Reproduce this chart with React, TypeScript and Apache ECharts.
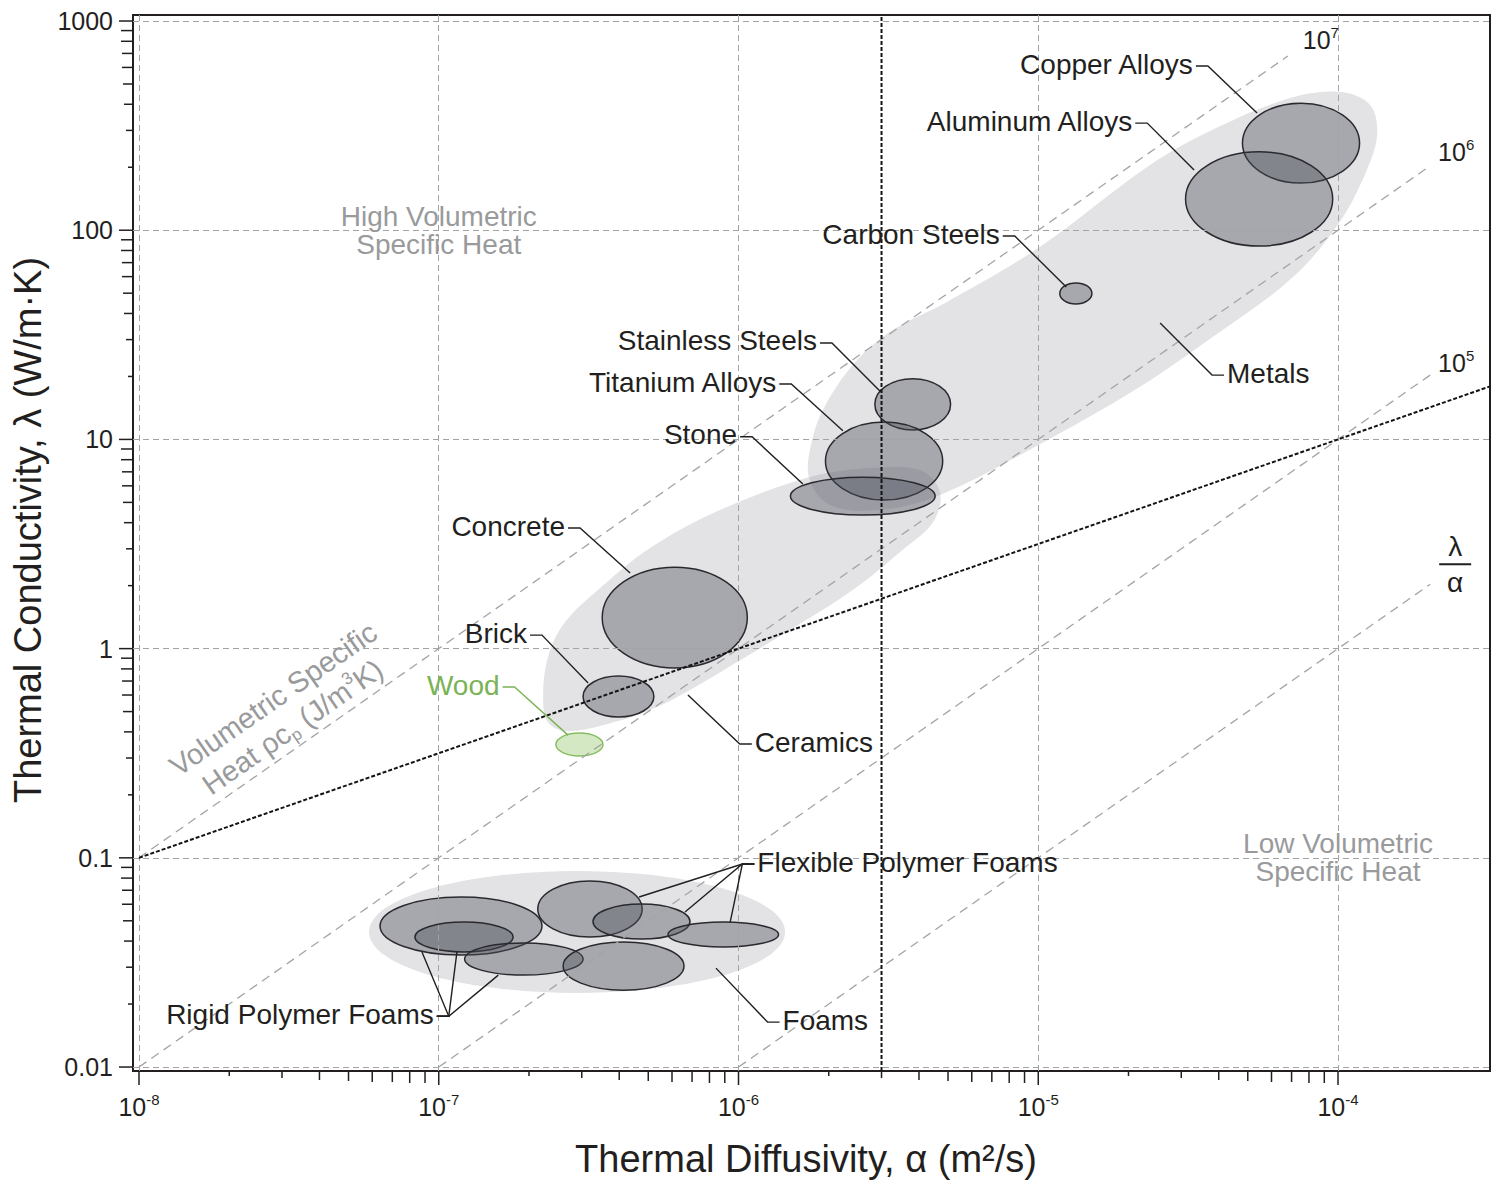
import React, { useEffect, useRef } from 'react';
import * as echarts from 'echarts';

const FONT = "'Liberation Sans', Arial, Helvetica, sans-serif";
const INK = '#231f20';
const GRID_GRAY = '#a3a3a3';
const NOTE_GRAY = '#999a9c';
const WOOD_GREEN = '#7ab356';
const ENVELOPE_FILL = 'rgba(150,153,162,0.27)';
const BUBBLE_FILL = 'rgba(78,80,90,0.40)';

// ---------- axes ----------
const X_MIN = 9.55e-9;
const X_MAX = 3.214e-4;
const Y_MIN = 0.009572;
const Y_MAX = 1068.4;
const X_DECADES = [1e-8, 1e-7, 1e-6, 1e-5, 1e-4];
const Y_DECADES = [0.01, 0.1, 1, 10, 100, 1000];
const MINOR_MULTIPLIERS = [2, 3, 4, 5, 6, 7, 8, 9];
const X_TITLE = 'Thermal Diffusivity, α (m²/s)';
const Y_TITLE = 'Thermal Conductivity, λ (W/m·K)';

// ---------- material bubbles (α in m²/s, λ in W/m·K) ----------
const MATERIALS = [
  'Copper Alloys', 'Aluminum Alloys', 'Carbon Steels', 'Stainless Steels', 'Titanium Alloys',
  'Stone', 'Concrete', 'Brick', 'Wood',
  'Rigid Polymer Foam A', 'Rigid Polymer Foam B', 'Rigid Polymer Foam C',
  'Flexible Polymer Foam A', 'Flexible Polymer Foam B', 'Polymer Foam', 'Flexible Polymer Foam C',
];
const ALPHA_MIN = [4.8e-5, 3.1e-5, 1.18e-5, 2.85e-6, 1.95e-6, 1.49e-6, 3.51e-7, 3.03e-7, 2.46e-7, 6.37e-8, 8.33e-8, 1.22e-7, 2.14e-7, 3.27e-7, 2.6e-7, 5.82e-7];
const ALPHA_MAX = [1.18e-4, 9.6e-5, 1.51e-5, 5.1e-6, 4.8e-6, 4.53e-6, 1.07e-6, 5.22e-7, 3.53e-7, 2.21e-7, 1.77e-7, 3.03e-7, 4.77e-7, 6.89e-7, 6.58e-7, 1.36e-6];
const LAMBDA_MIN = [168, 84, 44.4, 11.1, 5.13, 4.35, 0.808, 0.471, 0.307, 0.0343, 0.0355, 0.0275, 0.0418, 0.0409, 0.0233, 0.0375];
const LAMBDA_MAX = [405, 237, 56, 19.5, 12.1, 6.6, 2.45, 0.74, 0.395, 0.065, 0.0493, 0.0392, 0.0775, 0.0601, 0.0396, 0.0493];

// ---------- class envelopes ----------
const METALS_ALPHA = [1.72e-6, 1.76e-6, 1.95e-6, 2.45e-6, 3.27e-6, 4.89e-6, 1.0e-5, 2.36e-5, 3.92e-5, 6.92e-5, 1.02e-4, 1.28e-4, 1.35e-4, 1.24e-4, 1.01e-4, 7.08e-5, 3.89e-5, 2.15e-5, 1.0e-5, 4.7e-6, 2.96e-6, 2.02e-6];
const METALS_LAMBDA = [6.53, 9.93, 14.6, 23.4, 33.3, 44.9, 82.2, 205, 308, 428, 458, 397, 285, 190, 109, 59.7, 31.5, 17.6, 9.4, 5.42, 4.6, 4.86];
const CERAMICS_ALPHA = [2.23e-7, 2.3e-7, 2.6e-7, 3.4e-7, 5.07e-7, 8.67e-7, 1.73e-6, 2.75e-6, 4.03e-6, 4.7e-6, 4.46e-6, 3.46e-6, 2.41e-6, 1.49e-6, 9.89e-7, 6.89e-7, 5.07e-7, 3.45e-7, 2.64e-7, 2.31e-7];
const CERAMICS_LAMBDA = [0.568, 0.883, 1.3, 1.91, 3.03, 4.6, 6.61, 7.3, 7.14, 5.61, 4.03, 2.9, 1.91, 1.23, 0.863, 0.634, 0.509, 0.427, 0.404, 0.446];
const ENVELOPE_NAMES = ['Metals', 'Ceramics'];
const ENVELOPE_ALPHA = [METALS_ALPHA, CERAMICS_ALPHA];
const ENVELOPE_LAMBDA = [METALS_LAMBDA, CERAMICS_LAMBDA];
const FOAMS_ALPHA_RANGE = [5.85e-8, 1.43e-6];
const FOAMS_LAMBDA_RANGE = [0.0226, 0.0865];

// ---------- reference lines ----------
const RHO_C_VALUES = [1e7, 1e6, 1e5, 1e4]; // J/m³K, λ = ρc·α
const RHO_C_START_ALPHA = [1e-8, 1e-8, 1e-7, 1e-6];
const RHO_C_END_ALPHA = [6.8e-5, 2.03e-4, 2.03e-4, 2.03e-4];
const RHO_C_LABELS = ['7', '6', '5', 'λ/α'];
const SLOPED_LINE = [[1e-8, 0.1], [3.214e-4, 17.93]];
const VERTICAL_LINE_ALPHA = 3e-6;

// ---------- annotations ----------
const LABEL_TEXTS = ['Copper Alloys', 'Aluminum Alloys', 'Carbon Steels', 'Stainless Steels', 'Titanium Alloys', 'Stone', 'Concrete', 'Brick', 'Wood', 'Metals', 'Ceramics', 'Foams', 'Flexible Polymer Foams', 'Rigid Polymer Foams'];
const LABEL_ELBOWS = [[3.68e-5, 609], [2.31e-5, 325], [8.35e-6, 93.8], [2.05e-6, 28.9], [1.5e-6, 18.4], [1.11e-6, 10.3], [2.96e-7, 3.77], [2.21e-7, 1.16], [1.79e-7, 0.655], [3.8e-5, 20.3], [1.01e-6, 0.35], [1.25e-6, 0.0164], [1.03e-6, 0.0934], [1.08e-7, 0.0175]];
const LABEL_TARGETS = [
  [[5.37e-5, 363]],
  [[3.31e-5, 194]],
  [[1.24e-5, 53.5]],
  [[2.98e-6, 16.9]],
  [[2.23e-6, 11.0]],
  [[1.64e-6, 6.12]],
  [[4.35e-7, 2.3]],
  [[3.15e-7, 0.685]],
  [[2.7e-7, 0.386]],
  [[2.55e-5, 36.0]],
  [[6.78e-7, 0.6]],
  [[8.41e-7, 0.0297]],
  [[4.66e-7, 0.065], [6.63e-7, 0.0551], [9.38e-7, 0.0493]],
  [[8.79e-8, 0.0355], [1.15e-7, 0.0355], [1.58e-7, 0.0275]],
];
const NOTE_TEXTS = ['High Volumetric\nSpecific Heat', 'Low Volumetric\nSpecific Heat'];
const NOTE_POSITIONS = [[1e-7, 100], [1e-4, 0.1]];
const SLANTED_NOTE_POSITION = [3.02e-8, 0.492];

// ---------- styles (layout only) ----------
const LABEL_SIDE = ['left', 'left', 'left', 'left', 'left', 'left', 'left', 'left', 'left', 'right', 'right', 'right', 'right', 'left'];
const MAJOR_TICK_LEN = 14;
const MINOR_TICK_LEN: Record<number, number> = { 2: 5, 3: 7, 4: 9, 5: 10, 6: 11, 7: 11, 8: 12, 9: 12 };
const RHO_LABEL_OFFSET = [[33, -16], [26, -14], [26, -12], [25, 0]];

function isPow10(v: number) {
  const e = Math.log10(v);
  return Math.abs(e - Math.round(e)) < 0.01;
}

function buildOption() {
  const xTicks: number[][] = [];
  X_DECADES.forEach((d, k) => {
    xTicks.push([d, Y_MIN, MAJOR_TICK_LEN]);
    if (k < X_DECADES.length - 1) MINOR_MULTIPLIERS.forEach((m) => xTicks.push([d * m, Y_MIN, MINOR_TICK_LEN[m]]));
  });
  const yTicks: number[][] = [];
  Y_DECADES.forEach((d, k) => {
    yTicks.push([X_MIN, d, MAJOR_TICK_LEN]);
    if (k < Y_DECADES.length - 1) MINOR_MULTIPLIERS.forEach((m) => yTicks.push([X_MIN, d * m, MINOR_TICK_LEN[m]]));
  });

  // rich styles for axis labels (ECharts label model uses `color`)
  const axisSupRich = {
    b: { fontSize: 25, fontFamily: FONT, color: INK, lineHeight: 30 },
    s: { fontSize: 15, fontFamily: FONT, color: INK, verticalAlign: 'top', lineHeight: 12 },
  };
  // rich styles for zrender text in custom series (uses `fill`)
  const textSupRich = {
    b: { fontSize: 25, fontFamily: FONT, fill: INK, lineHeight: 30 },
    s: { fontSize: 15, fontFamily: FONT, fill: INK, verticalAlign: 'top', lineHeight: 12 },
  };

  const series: any[] = [];

  // envelopes
  series.push({
    type: 'custom', name: 'envelopes', z: 1, silent: true, coordinateSystem: 'cartesian2d',
    data: ENVELOPE_NAMES.map((_, i) => [ENVELOPE_ALPHA[i][0], ENVELOPE_LAMBDA[i][0], i]),
    encode: { x: 0, y: 1 },
    renderItem: (params: any, api: any) => {
      const i = params.dataIndex;
      const points = ENVELOPE_ALPHA[i].map((a, k) => api.coord([a, ENVELOPE_LAMBDA[i][k]]));
      return { type: 'polygon', shape: { points, smooth: 0.35 }, style: { fill: ENVELOPE_FILL } };
    },
  });
  series.push({
    type: 'custom', name: 'Foams envelope', z: 1, silent: true, coordinateSystem: 'cartesian2d',
    data: [[Math.sqrt(FOAMS_ALPHA_RANGE[0] * FOAMS_ALPHA_RANGE[1]), Math.sqrt(FOAMS_LAMBDA_RANGE[0] * FOAMS_LAMBDA_RANGE[1])]],
    encode: { x: 0, y: 1 },
    renderItem: (_p: any, api: any) => {
      const tl = api.coord([FOAMS_ALPHA_RANGE[0], FOAMS_LAMBDA_RANGE[1]]);
      const br = api.coord([FOAMS_ALPHA_RANGE[1], FOAMS_LAMBDA_RANGE[0]]);
      return {
        type: 'ellipse',
        shape: { cx: (tl[0] + br[0]) / 2, cy: (tl[1] + br[1]) / 2, rx: (br[0] - tl[0]) / 2, ry: (br[1] - tl[1]) / 2 },
        style: { fill: ENVELOPE_FILL },
      };
    },
  });

  // bubbles
  series.push({
    type: 'custom', name: 'materials', z: 2, silent: true, coordinateSystem: 'cartesian2d',
    data: MATERIALS.map((_, i) => [Math.sqrt(ALPHA_MIN[i] * ALPHA_MAX[i]), Math.sqrt(LAMBDA_MIN[i] * LAMBDA_MAX[i]), i]),
    encode: { x: 0, y: 1 },
    renderItem: (params: any, api: any) => {
      const i = params.dataIndex;
      const tl = api.coord([ALPHA_MIN[i], LAMBDA_MAX[i]]);
      const br = api.coord([ALPHA_MAX[i], LAMBDA_MIN[i]]);
      const wood = MATERIALS[i] === 'Wood';
      return {
        type: 'ellipse',
        shape: { cx: (tl[0] + br[0]) / 2, cy: (tl[1] + br[1]) / 2, rx: (br[0] - tl[0]) / 2, ry: (br[1] - tl[1]) / 2 },
        style: { fill: wood ? '#d5e8c4' : BUBBLE_FILL, stroke: wood ? '#86bd62' : '#2a2a2e', lineWidth: 1.5 },
      };
    },
  });

  // constant ρc lines
  RHO_C_VALUES.forEach((rc, i) => {
    series.push({
      type: 'line', name: 'ρc = ' + rc, z: 4, silent: true, symbol: 'none', clip: false,
      data: [[RHO_C_START_ALPHA[i], rc * RHO_C_START_ALPHA[i]], [RHO_C_END_ALPHA[i], rc * RHO_C_END_ALPHA[i]]],
      lineStyle: { color: '#a4a4a4', width: 1.3, type: [9, 6] },
    });
  });
  series.push({
    type: 'line', name: 'sloped', z: 4, silent: true, symbol: 'none',
    data: SLOPED_LINE,
    lineStyle: { color: '#141414', width: 2, type: [4, 2] },
  });
  series.push({
    type: 'line', name: 'vertical', z: 4, silent: true, symbol: 'none',
    data: [[VERTICAL_LINE_ALPHA, Y_MIN], [VERTICAL_LINE_ALPHA, Y_MAX]],
    lineStyle: { color: '#141414', width: 2, type: [4, 2] },
  });

  // ρc labels
  series.push({
    type: 'custom', name: 'rho labels', z: 5, silent: true, coordinateSystem: 'cartesian2d', clip: false,
    data: RHO_C_VALUES.map((rc, i) => [RHO_C_END_ALPHA[i], rc * RHO_C_END_ALPHA[i], i]),
    encode: { x: 0, y: 1 },
    renderItem: (params: any, api: any) => {
      const i = params.dataIndex;
      const p = api.coord([api.value(0), api.value(1)]);
      const [dx, dy] = RHO_LABEL_OFFSET[i];
      const x = p[0] + dx;
      const y = p[1] + dy;
      if (RHO_C_LABELS[i] === 'λ/α') {
        return {
          type: 'group',
          children: [
            { type: 'text', x, y: y - 38, style: { text: 'λ', fill: INK, fontSize: 28, fontFamily: FONT, align: 'center', verticalAlign: 'middle' } },
            { type: 'line', shape: { x1: x - 16, y1: y - 20, x2: x + 16, y2: y - 20 }, style: { stroke: INK, lineWidth: 2 } },
            { type: 'text', x, y: y - 2, style: { text: 'α', fill: INK, fontSize: 28, fontFamily: FONT, align: 'center', verticalAlign: 'middle' } },
          ],
        };
      }
      return {
        type: 'text', x, y,
        style: { text: '{b|10}{s|' + RHO_C_LABELS[i] + '}', rich: textSupRich, fill: INK, align: 'center', verticalAlign: 'middle' },
      };
    },
  });

  // notes
  series.push({
    type: 'custom', name: 'notes', z: 5, silent: true, coordinateSystem: 'cartesian2d',
    data: NOTE_POSITIONS.map((p, i) => [p[0], p[1], i]),
    encode: { x: 0, y: 1 },
    renderItem: (params: any, api: any) => {
      const i = params.dataIndex;
      const p = api.coord(NOTE_POSITIONS[i]);
      return {
        type: 'text', x: p[0], y: p[1],
        style: { text: NOTE_TEXTS[i], fill: NOTE_GRAY, fontSize: 28, lineHeight: 28, fontFamily: FONT, align: 'center', verticalAlign: 'middle' },
      };
    },
  });
  series.push({
    type: 'custom', name: 'slanted note', z: 5, silent: true, coordinateSystem: 'cartesian2d',
    data: [SLANTED_NOTE_POSITION],
    encode: { x: 0, y: 1 },
    renderItem: (_p: any, api: any) => {
      const p = api.coord(SLANTED_NOTE_POSITION);
      const a0 = api.coord([RHO_C_START_ALPHA[0], RHO_C_VALUES[0] * RHO_C_START_ALPHA[0]]);
      const a1 = api.coord([RHO_C_END_ALPHA[0], RHO_C_VALUES[0] * RHO_C_END_ALPHA[0]]);
      const angle = Math.atan2(a0[1] - a1[1], a1[0] - a0[0]);
      const n = { fontSize: 29, fontFamily: FONT, fill: NOTE_GRAY, lineHeight: 34 };
      return {
        type: 'text', x: p[0], y: p[1], rotation: angle,
        style: {
          text: '{n|Volumetric Specific}\n{n|Heat ρc}{sub|p}{n| (J/m}{sup|3}{n|K)}',
          fill: NOTE_GRAY,
          rich: {
            n,
            sub: { fontSize: 17, fontFamily: FONT, fill: NOTE_GRAY, verticalAlign: 'bottom', lineHeight: 14 },
            sup: { fontSize: 17, fontFamily: FONT, fill: NOTE_GRAY, verticalAlign: 'top', lineHeight: 14 },
          },
          align: 'center', verticalAlign: 'middle',
        },
      };
    },
  });

  // labels with leaders
  series.push({
    type: 'custom', name: 'labels', z: 6, silent: true, coordinateSystem: 'cartesian2d', clip: false,
    data: LABEL_ELBOWS.map((e, i) => [e[0], e[1], i]),
    encode: { x: 0, y: 1 },
    renderItem: (params: any, api: any) => {
      const i = params.dataIndex;
      const e = api.coord(LABEL_ELBOWS[i]);
      const dir = LABEL_SIDE[i] === 'left' ? -1 : 1;
      const color = LABEL_TEXTS[i] === 'Wood' ? WOOD_GREEN : INK;
      const dashEnd = [e[0] + dir * 12, e[1]];
      const children: any[] = LABEL_TARGETS[i].map((t) => ({
        type: 'polyline',
        shape: { points: [dashEnd, e, api.coord(t)] },
        style: { stroke: color, lineWidth: 1.4, fill: 'none' },
      }));
      children.push({
        type: 'text', x: e[0] + dir * 15, y: e[1] - 2,
        style: { text: LABEL_TEXTS[i], fill: color, fontSize: 28, fontFamily: FONT, align: dir < 0 ? 'right' : 'left', verticalAlign: 'middle' },
      });
      return { type: 'group', children };
    },
  });

  // log ticks
  series.push({
    type: 'custom', name: 'x ticks', z: 6, silent: true, coordinateSystem: 'cartesian2d', clip: false,
    data: xTicks, encode: { x: 0, y: 1 },
    renderItem: (_p: any, api: any) => {
      const p = api.coord([api.value(0), Y_MIN]);
      const len = api.value(2);
      return { type: 'line', shape: { x1: p[0], y1: p[1], x2: p[0], y2: p[1] + len }, style: { stroke: INK, lineWidth: 1.5 } };
    },
  });
  series.push({
    type: 'custom', name: 'y ticks', z: 6, silent: true, coordinateSystem: 'cartesian2d', clip: false,
    data: yTicks, encode: { x: 0, y: 1 },
    renderItem: (_p: any, api: any) => {
      const p = api.coord([X_MIN, api.value(1)]);
      const len = api.value(2);
      return { type: 'line', shape: { x1: p[0] - len, y1: p[1], x2: p[0], y2: p[1] }, style: { stroke: INK, lineWidth: 1.5 } };
    },
  });

  const splitLine = { show: true, showMinLine: false, showMaxLine: false, lineStyle: { color: GRID_GRAY, width: 1, type: [6, 4] } };

  return {
    animation: false,
    backgroundColor: '#ffffff',
    textStyle: { fontFamily: FONT },
    grid: { left: 133, top: 15, width: 1357, height: 1056, show: true, borderColor: INK, borderWidth: 2, backgroundColor: 'transparent' },
    xAxis: {
      type: 'log', logBase: 10, min: X_MIN, max: X_MAX, z: 3,
      axisLine: { show: false }, axisTick: { show: false }, minorTick: { show: false },
      splitLine,
      axisLabel: {
        margin: 21, showMinLabel: true, showMaxLabel: true,
        formatter: (v: number) => (isPow10(v) ? '{b|10}{s|' + Math.round(Math.log10(v)) + '}' : ''),
        rich: axisSupRich,
      },
    },
    yAxis: {
      type: 'log', logBase: 10, min: Y_MIN, max: Y_MAX, z: 3,
      axisLine: { show: false }, axisTick: { show: false }, minorTick: { show: false },
      splitLine,
      axisLabel: {
        margin: 20, showMinLabel: true, showMaxLabel: true, color: INK, fontSize: 25, fontFamily: FONT,
        formatter: (v: number) => {
          if (!isPow10(v)) return '';
          const e = Math.round(Math.log10(v));
          return e >= 0 ? String(Math.pow(10, e)) : Math.pow(10, e).toFixed(-e);
        },
      },
    },
    graphic: [
      { type: 'text', x: 806, y: 1159, silent: true, style: { text: X_TITLE, fill: INK, fontSize: 38, fontFamily: FONT, align: 'center', verticalAlign: 'middle' } },
      { type: 'text', x: 28, y: 530, rotation: Math.PI / 2, silent: true, style: { text: Y_TITLE, fill: INK, fontSize: 38, fontFamily: FONT, align: 'center', verticalAlign: 'middle' } },
    ],
    series,
  };
}

export default function App() {
  const ref = useRef<HTMLDivElement>(null);
  useEffect(() => {
    document.body.style.margin = '0';
    const chart = echarts.init(ref.current as HTMLDivElement, undefined, { renderer: 'svg' });
    chart.setOption(buildOption() as any);
    return () => chart.dispose();
  }, []);
  return <div ref={ref} style={{ width: 1502, height: 1184 }} />;
}
